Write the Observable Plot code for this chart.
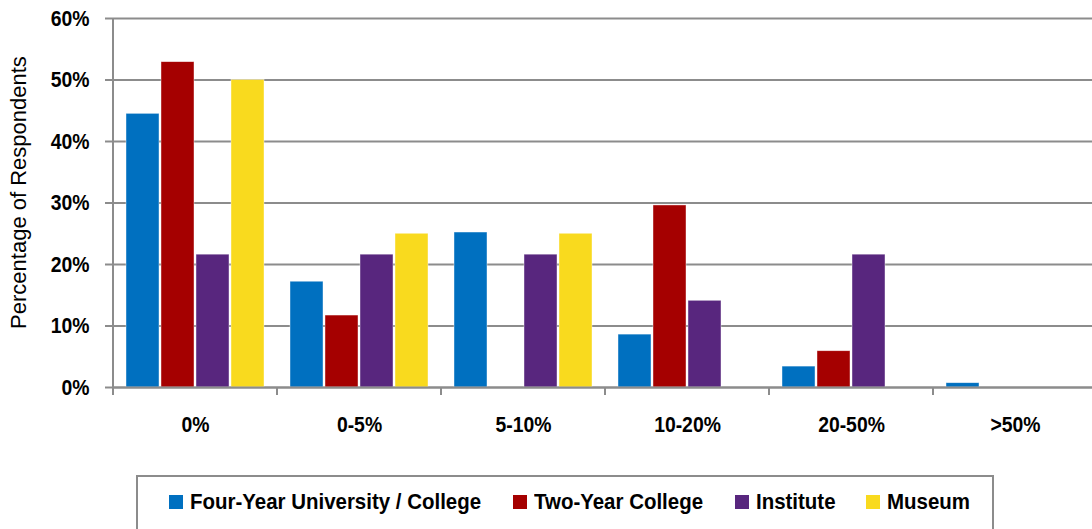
<!DOCTYPE html>
<html><head><meta charset="utf-8">
<script src="https://cdn.jsdelivr.net/npm/d3@7"></script>
<script src="https://cdn.jsdelivr.net/npm/@observablehq/plot@0.6"></script>
<style>
body{margin:0;background:#fff;font-family:"Liberation Sans",Arial,sans-serif;}
#wrap{position:relative;width:1092px;height:529px;overflow:hidden;}
#legend{position:absolute;left:136px;top:475px;width:858px;height:80px;border:2px solid #8c8c8c;box-sizing:border-box;}
.sw{position:absolute;top:18px;width:14px;height:14px;}
.lt{position:absolute;top:12px;font-size:22px;line-height:26px;font-weight:bold;color:#000;white-space:nowrap;transform:scaleX(0.93);transform-origin:0 0;}
</style></head><body><div id="wrap"></div>
<script>
const categories = ["0%", "0-5%", "5-10%", "10-20%", "20-50%", ">50%"];
const seriesNames = ["Four-Year University / College", "Two-Year College", "Institute", "Museum"];
const seriesColors = ["#0070c0", "#a50000", "#58267e", "#f9da1e"];
const fourYear  = [44.5, 17.2, 25.2, 8.6, 3.4, 0.7];
const twoYear   = [52.9, 11.7, 0, 29.6, 5.9, 0];
const institute = [21.6, 21.6, 21.6, 14.1, 21.6, 0];
const museum    = [50.0, 25.0, 25.0, 0, 0, 0];
const yTicks = [0, 10, 20, 30, 40, 50, 60];
const yTitle = "Percentage of Respondents";
const legendLefts = [169, 513, 735, 866];

const seriesValues = [fourYear, twoYear, institute, museum];
const rows = [];
categories.forEach((c, i) => seriesNames.forEach((s, j) => {
  if (seriesValues[j][i] > 0) rows.push({category: c, series: s, value: seriesValues[j][i]});
}));

const font = '"Liberation Sans",Arial,sans-serif';
const grid = "#8c8c8c";

const plot = Plot.plot({
  width: 1092,
  height: 465,
  marginTop: 18,
  marginBottom: 78,
  marginLeft: 112,
  marginRight: -6,
  style: {fontFamily: font, background: "#fff"},
  fx: {domain: categories, padding: 0, label: null},
  x: {domain: seriesNames, paddingInner: 0.07, paddingOuter: 0.34, axis: null},
  y: {domain: [0, 60], label: null},
  color: {domain: seriesNames, range: seriesColors},
  marks: [
    Plot.ruleY(yTicks, {stroke: grid, strokeWidth: 2}),
    Plot.barY(rows, {fx: "category", x: "series", y: "value", fill: "series", stroke: "#fff", strokeOpacity: 0.6, strokeWidth: 0.7}),
    Plot.ruleY([0], {stroke: grid, strokeWidth: 2}),
    Plot.axisY({ticks: yTicks, tickSize: 8, tickPadding: 16, stroke: grid, strokeWidth: 2,
      tickFormat: d => d + "%", fontSize: 22, fontWeight: "bold", fill: "#000", label: null}),
    Plot.axisFx({anchor: "bottom", tickSize: 0, tickPadding: 29, fontSize: 22, fontWeight: "bold", fill: "#000", label: null})
  ]
});

// narrow the tick label glyphs horizontally around their anchors
function squeeze(el, s) {
  const x = +el.getAttribute("x") || 0, y = +el.getAttribute("y") || 0;
  const t = el.getAttribute("transform") || "";
  el.setAttribute("transform", `${t} translate(${x},${y}) scale(${s},1) translate(${-x},${-y})`);
}
plot.querySelectorAll('[aria-label="y-axis tick label"] text, [aria-label="fx-axis tick label"] text')
  .forEach(el => squeeze(el, 0.88));

const fx = plot.scale("fx"), y = plot.scale("y");
const svg = d3.select(plot);
const y0 = y.apply(0), yTop = y.apply(60);

// y-axis title
svg.append("text").text(yTitle)
  .attr("transform", `translate(26,${(y0 + yTop) / 2 - 10}) rotate(-90)`)
  .attr("text-anchor", "middle").attr("font-size", 22).attr("font-family", font).attr("fill", "#000");

// y-axis line and category boundary ticks, placed with the fx / y scales
svg.append("line").attr("x1", fx.apply(categories[0])).attr("x2", fx.apply(categories[0]))
  .attr("y1", yTop).attr("y2", y0 + 8).attr("stroke", grid).attr("stroke-width", 2);
categories.forEach(c => {
  const xx = fx.apply(c);
  svg.append("line").attr("x1", xx).attr("x2", xx).attr("y1", y0).attr("y2", y0 + 8)
    .attr("stroke", grid).attr("stroke-width", 2);
});

const wrap = document.getElementById("wrap");
wrap.appendChild(plot);
const legend = document.createElement("div");
legend.id = "legend";
seriesNames.forEach((s, i) => {
  const sw = document.createElement("div");
  sw.className = "sw";
  sw.style.left = (legendLefts[i] - 138) + "px";
  sw.style.background = seriesColors[i];
  legend.appendChild(sw);
  const t = document.createElement("div");
  t.className = "lt";
  t.style.left = (legendLefts[i] - 138 + 21) + "px";
  t.textContent = s;
  legend.appendChild(t);
});
wrap.appendChild(legend);
</script></body></html>
